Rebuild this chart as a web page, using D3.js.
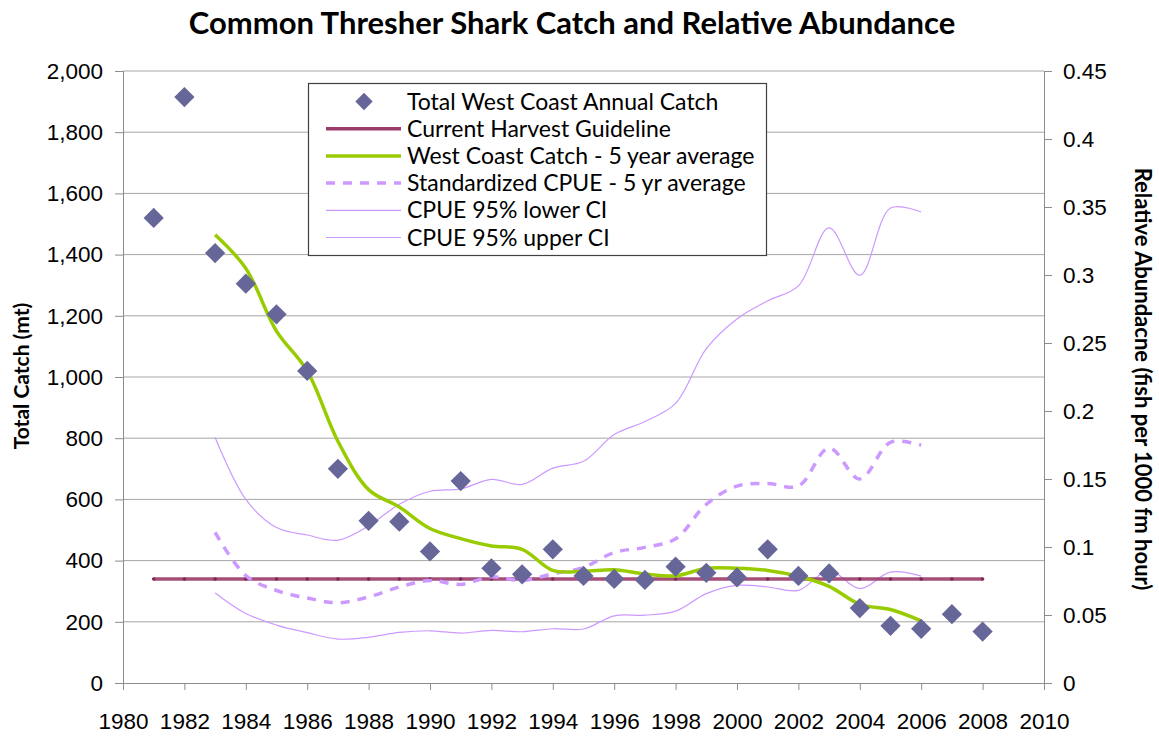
<!DOCTYPE html>
<html lang="en">
<head>
<meta charset="utf-8">
<style>
  body { margin: 0; background: white; }
  svg { font-family: 'Lato', 'Open Sans', sans-serif; }
  .grid line { stroke: #a6a6a6; stroke-width: 1; }
  .axis path, .axis line { stroke: #8c8c8c; }
  .axis text { fill: black; font-size: 22.5px; }
  .title { font-size: 31px; font-weight: bold; }
  .alabel { font-weight: bold; }
  .legend text { font-size: 23px; }
</style>
</head>
<body>
<svg width="1159" height="736"></svg>
<script src="https://d3js.org/d3.v7.min.js"></script>
<script>
// catch per year (mt)
const catchYears = d3.range(1981, 2009)
const catchValues = [1520, 1915, 1405, 1305, 1205, 1020, 700, 530, 527, 430, 660, 375, 355, 437,
  350, 340, 337, 380, 360, 345, 437, 350, 358, 245, 187, 177, 225, 168]

// harvest guideline
const guideYears = d3.range(1981, 2009)
const guideValue = 340

// smoothed series 1983-2006
const avgYears = d3.range(1983, 2007)
const catchAvg = [1465, 1355, 1150, 1020, 790, 632, 575, 505, 472, 448, 437, 368, 365, 370,
  356, 350, 375, 375, 368, 349, 316, 257, 240, 203]
const cpueAvg = [0.1107, 0.079, 0.068, 0.0625, 0.059, 0.0633, 0.0706, 0.0754, 0.0725, 0.078,
  0.0754, 0.0803, 0.085, 0.096, 0.0997, 0.106, 0.1314, 0.1448, 0.1467, 0.1448, 0.1728, 0.150, 0.177, 0.1748]
const cpueLower = [0.0662, 0.0511, 0.0426, 0.037, 0.0323, 0.0336, 0.0372, 0.0384, 0.0367, 0.0387,
  0.0377, 0.0399, 0.0397, 0.0494, 0.0499, 0.0528, 0.0657, 0.0718, 0.0706, 0.0681, 0.0827, 0.0694, 0.0815, 0.0786]
const cpueUpper = [0.1805, 0.135, 0.1143, 0.1088, 0.105, 0.1156, 0.1314, 0.141, 0.1428, 0.1497,
  0.146, 0.158, 0.163, 0.1827, 0.1923, 0.2056, 0.2458, 0.2677, 0.281, 0.292, 0.3346, 0.2998, 0.3492, 0.3463]

const leftTicks = d3.range(0, 2001, 200)
const rightTicks = d3.range(0, 0.451, 0.05)
const xTicks = d3.range(1980, 2011, 2)

const svg = d3.select("svg")
const margin = { left: 123, right: 1044, top: 71, bottom: 683 }

const x = d3.scaleLinear().domain([1980, 2010]).range([margin.left, margin.right])
const y = d3.scaleLinear().domain([0, 2000]).range([margin.bottom, margin.top])
const y2 = d3.scaleLinear().domain([0, 0.45]).range([margin.bottom, margin.top])

svg.append("text").attr("class", "title")
  .attr("x", 572).attr("y", 34).attr("text-anchor", "middle")
  .text("Common Thresher Shark Catch and Relative Abundance")

// gridlines
svg.append("g").attr("class", "grid")
  .selectAll("line").data(leftTicks.slice(1)).join("line")
  .attr("x1", margin.left).attr("x2", margin.right)
  .attr("y1", d => y(d)).attr("y2", d => y(d))

// axes
svg.append("g").attr("class", "axis")
  .attr("transform", "translate(" + margin.left + ",0)")
  .call(d3.axisLeft(y).tickValues(leftTicks).tickSize(8).tickPadding(12).tickFormat(d3.format(",")))
svg.append("g").attr("class", "axis")
  .attr("transform", "translate(" + margin.right + ",0)")
  .call(d3.axisRight(y2).tickValues(rightTicks).tickSize(8).tickPadding(11)
    .tickFormat(d => d === 0 ? "0" : d3.format("")(+d.toFixed(2))))
svg.append("g").attr("class", "axis")
  .attr("transform", "translate(0," + margin.bottom + ")")
  .call(d3.axisBottom(x).tickValues(xTicks).tickSize(7).tickPadding(23).tickFormat(d3.format("d")))

svg.append("text").attr("class", "alabel")
  .attr("transform", "translate(29,376) rotate(-90)").attr("text-anchor", "middle")
  .style("font-size", "21px")
  .text("Total Catch (mt)")
svg.append("text").attr("class", "alabel")
  .attr("transform", "translate(1135,379) rotate(90)").attr("text-anchor", "middle")
  .style("font-size", "22px")
  .text("Relative Abundacne (fish per 1000 fm hour)")

const smooth = d3.curveCatmullRom.alpha(0.5)
const lineL = d3.line().x(d => x(d[0])).y(d => y(d[1])).curve(smooth)
const lineR = d3.line().x(d => x(d[0])).y(d => y2(d[1])).curve(smooth)

const plot = svg.append("g")

// CI lines
plot.append("path").datum(d3.zip(avgYears, cpueLower)).attr("d", lineR)
  .attr("fill", "none").attr("stroke", "#cc99ff").attr("stroke-width", 1.2)
plot.append("path").datum(d3.zip(avgYears, cpueUpper)).attr("d", lineR)
  .attr("fill", "none").attr("stroke", "#cc99ff").attr("stroke-width", 1.2)

// harvest guideline
const guide = guideYears.map(d => [d, guideValue])
plot.append("path").datum(guide)
  .attr("d", d3.line().x(d => x(d[0])).y(d => y(d[1])))
  .attr("fill", "none").attr("stroke", "#9b3b6a").attr("stroke-width", 3.5).attr("stroke-opacity", 0.9)
plot.selectAll("circle.g").data(guide).join("circle")
  .attr("cx", d => x(d[0])).attr("cy", d => y(d[1])).attr("r", 1.8).attr("fill", "#7a2a50")

// dashed cpue avg
plot.append("path").datum(d3.zip(avgYears, cpueAvg)).attr("d", lineR)
  .attr("fill", "none").attr("stroke", "#cc99ff").attr("stroke-width", 3.5)
  .attr("stroke-dasharray", "9,8")

// green catch avg
plot.append("path").datum(d3.zip(avgYears, catchAvg)).attr("d", lineL)
  .attr("fill", "none").attr("stroke", "#99cc00").attr("stroke-width", 3.5)

// diamonds
const diamond = d3.symbol().type(d3.symbolSquare).size(205)
plot.selectAll("path.dm").data(d3.zip(catchYears, catchValues)).join("path")
  .attr("class", "dm")
  .attr("d", diamond)
  .attr("transform", d => "translate(" + x(d[0]) + "," + y(d[1]) + ") rotate(45)")
  .attr("fill", "#666699")

// legend
const lg = svg.append("g").attr("class", "legend")
lg.append("rect").attr("x", 308.5).attr("y", 83.5).attr("width", 458).attr("height", 172)
  .attr("fill", "white").attr("stroke", "#404040").attr("stroke-width", 1.2)
const items = [
  { label: "Total West Coast Annual Catch", kind: "diamond" },
  { label: "Current Harvest Guideline", color: "#9b3b6a", w: 3.5 },
  { label: "West Coast Catch - 5 year average", color: "#99cc00", w: 3.5 },
  { label: "Standardized CPUE - 5 yr average", color: "#cc99ff", w: 3.5, dash: "9,8" },
  { label: "CPUE 95% lower CI", color: "#cc99ff", w: 1.2 },
  { label: "CPUE 95% upper CI", color: "#cc99ff", w: 1.2 }
]
items.forEach(function (it, i) {
  const cy = 101.5 + i * 27.2
  if (it.kind === "diamond") {
    lg.append("path").attr("d", d3.symbol().type(d3.symbolSquare).size(150))
      .attr("transform", "translate(364," + cy + ") rotate(45)").attr("fill", "#666699")
  } else {
    lg.append("line").attr("x1", 326).attr("x2", 401).attr("y1", cy).attr("y2", cy)
      .attr("stroke", it.color).attr("stroke-width", it.w)
      .attr("stroke-dasharray", it.dash || null)
  }
  lg.append("text").attr("x", 407).attr("y", cy + 8).text(it.label)
})
</script>
</body>
</html>
